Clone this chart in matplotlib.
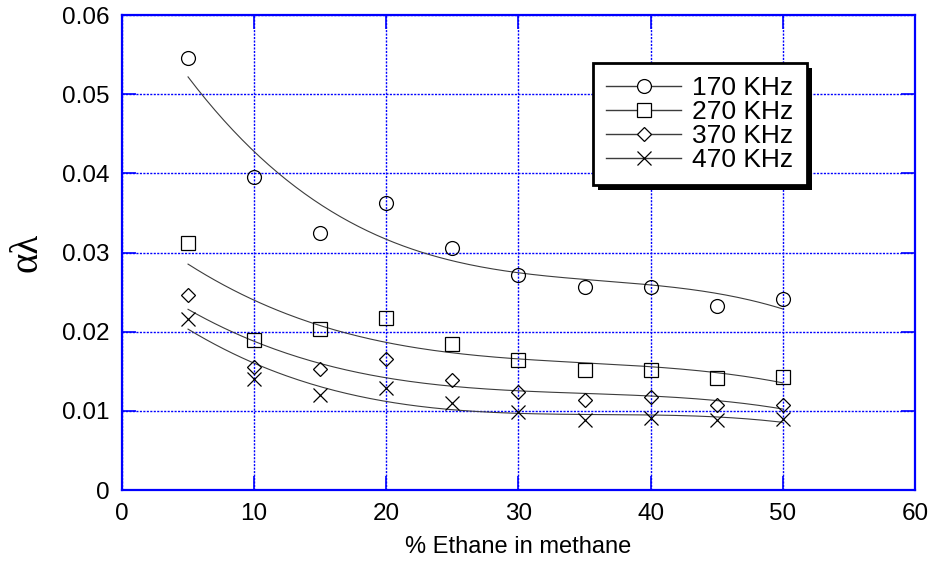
import numpy as np
import matplotlib
matplotlib.use("Agg")
import matplotlib.pyplot as plt
from matplotlib.patches import Rectangle
from matplotlib.transforms import IdentityTransform

# Attenuation (alpha*lambda) versus ethane concentration at four frequencies
ethane_pct = [5, 10, 15, 20, 25, 30, 35, 40, 45, 50]
f170 = [0.0546, 0.0395, 0.0325, 0.0362, 0.0306, 0.0271, 0.0257, 0.0257, 0.0233, 0.0241]
f270 = [0.0312, 0.0190, 0.0203, 0.0217, 0.0185, 0.0164, 0.0151, 0.0151, 0.0142, 0.0143]
f370 = [0.0246, 0.0156, 0.0153, 0.0165, 0.0139, 0.0124, 0.0114, 0.0118, 0.0107, 0.0108]
f470 = [0.0216, 0.0140, 0.0120, 0.0129, 0.0110, 0.0098, 0.0089, 0.0091, 0.0089, 0.0090]
labels = ["170 KHz", "270 KHz", "370 KHz", "470 KHz"]
fit_degree = 3

series = [f170, f270, f370, f470]
markers = ["o", "s", "D", "x"]
msizes = [10, 10, 7.5, 10]

plt.rcParams["font.family"] = ["Liberation Sans", "DejaVu Sans"]

fig = plt.figure(figsize=(9.36, 5.67), dpi=100)
ax = fig.add_axes([0.1303, 0.1358, 0.8472, 0.8377])

x = np.asarray(ethane_pct, dtype=float)
xf = np.linspace(x.min(), x.max(), 200)
for ys, m, ms, lab in zip(series, markers, msizes, labels):
    y = np.asarray(ys)
    coef = np.polyfit(x, y, fit_degree)
    ax.plot(x, y, linestyle="none", marker=m, markersize=ms,
            markerfacecolor="none", markeredgecolor="black",
            markeredgewidth=0.9, color="black", zorder=3)
    ax.plot(xf, np.polyval(coef, xf), color="#3c3c3c", linewidth=0.8, zorder=2)
    # legend proxy: line with marker in the middle
    ax.plot([], [], color="#3c3c3c", linewidth=1.0, marker=m, markersize=ms,
            markerfacecolor="white", markeredgecolor="black",
            markeredgewidth=0.9, label=lab)

ax.set_xlim(0, 60)
ax.set_ylim(0, 0.06)
ax.set_xticks(range(0, 61, 10))
ax.set_yticks([0, 0.01, 0.02, 0.03, 0.04, 0.05, 0.06])
ax.set_yticklabels(["0", "0.01", "0.02", "0.03", "0.04", "0.05", "0.06"])

blue = "#0000ff"
ax.grid(True, color=blue, linestyle=(0, (1.5, 1.0)), linewidth=1.0)
ax.set_axisbelow(True)
for sp in ax.spines.values():
    sp.set_color(blue)
    sp.set_linewidth(1.6)
ax.tick_params(direction="in", length=10, width=1.2, color=blue,
               top=True, right=True, labelsize=17.5, pad=9, labelcolor="black")

ax.set_xlabel("% Ethane in methane", fontsize=17, labelpad=8)
ax.set_ylabel("αλ", fontsize=28, labelpad=12, fontfamily="Liberation Serif")

leg = ax.legend(loc="upper left", bbox_to_anchor=(0.594, 0.899), fontsize=19,
                handlelength=2.85, numpoints=1, fancybox=False,
                framealpha=1, edgecolor="black", borderpad=0.5,
                borderaxespad=0, labelspacing=0.0, handletextpad=0.42)
leg.get_frame().set_linewidth(2.0)
leg.set_zorder(5)

# solid drop shadow behind the legend box
fig.canvas.draw()
bb = leg.get_window_extent()
shadow = Rectangle((bb.x0 + 5, bb.y0 - 5), bb.width, bb.height,
                   transform=IdentityTransform(), facecolor="black",
                   edgecolor="none", zorder=4.9, clip_on=False)
ax.add_patch(shadow)

fig.savefig("out.png", dpi=100)
